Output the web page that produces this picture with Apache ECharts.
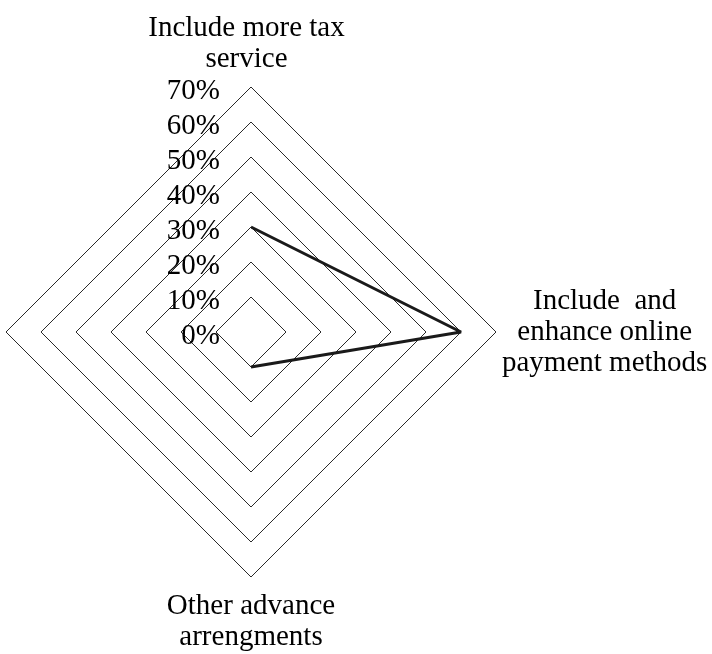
<!DOCTYPE html>
<html>
<head>
<meta charset="utf-8">
<script src="https://cdn.jsdelivr.net/npm/echarts@6/dist/echarts.min.js"></script>
<style>
html,body{margin:0;padding:0;background:#fff;}
#chart{width:712px;height:654px;}
</style>
</head>
<body>
<div id="chart"></div>
<script>
// Categories in clockwise order starting at the top
const categories = [
  'Include more tax\nservice',
  'Include  and\nenhance online\npayment methods',
  'Other advance\narrengments',
  ''
];
// Values in percent (last category has no value)
const values = [30, 60, 10, null];
const axisMin = 0;
const axisMax = 70;
const axisStep = 10;

const FONT = 'Liberation Serif';
const FS = 29;
const LH = 31;
const CENTER = [251, 332];
const RADIUS = 245;

// radar lays indicators counter-clockwise: reorder to top, left, bottom, right
const radarOrder = [0, 3, 2, 1];
const indicator = radarOrder.map(i => ({ name: categories[i], min: axisMin, max: axisMax }));

const baseText = { align: 'center', color: '#000', fontFamily: FONT, fontSize: FS, lineHeight: LH };
const SP = '\u00a0';

const chart = echarts.init(document.getElementById('chart'), null, { renderer: 'canvas' });
chart.setOption({
  animation: false,
  backgroundColor: '#fff',
  radar: {
    center: CENTER,
    radius: RADIUS,
    startAngle: 90,
    shape: 'polygon',
    splitNumber: (axisMax - axisMin) / axisStep,
    indicator: indicator,
    nameGap: 6,
    axisName: {
      color: '#000',
      fontFamily: FONT,
      fontSize: FS,
      lineHeight: LH,
      formatter: function (name) {
        if (!name) return '';
        const lines = name.split('\n');
        const idx = categories.indexOf(name);
        const key = idx === 0 ? 't' : 'c';
        let out = lines.map(l => '{' + key + '|' + l + '}');
        if (idx === 0) out.push('{g6|' + SP + '}');
        if (idx === 2) out.unshift('{g8|' + SP + '}');
        return out.join('\n');
      },
      rich: {
        c: Object.assign({}, baseText),
        t: Object.assign({}, baseText, { padding: [0, 9, 0, 0] }),
        g6: { fontSize: 1, lineHeight: 6 },
        g8: { fontSize: 1, lineHeight: 8 }
      }
    },
    axisLine: { show: false },
    axisTick: { show: false },
    axisLabel: { show: false },
    splitArea: { show: false },
    splitLine: { lineStyle: { color: '#2a2a2a', width: 1 } }
  },
  polar: {
    center: CENTER,
    radius: RADIUS
  },
  angleAxis: {
    type: 'category',
    data: categories,
    boundaryGap: false,
    startAngle: 90,
    clockwise: true,
    show: false
  },
  radiusAxis: {
    type: 'value',
    min: axisMin,
    max: axisMax,
    interval: axisStep,
    axisLine: { show: false },
    axisTick: { show: false },
    splitLine: { show: false },
    axisLabel: {
      margin: 31,
      color: '#000',
      fontFamily: FONT,
      fontSize: FS,
      formatter: function (v) { return '{g|' + SP + '}\n{v|' + v + '%}'; },
      rich: {
        g: { fontSize: 1, lineHeight: 8 },
        v: { color: '#000', fontFamily: FONT, fontSize: FS, lineHeight: LH, align: 'right' }
      }
    }
  },
  series: [{
    type: 'line',
    coordinateSystem: 'polar',
    data: values.map(v => (v === null ? '-' : v)),
    symbol: 'none',
    connectNulls: false,
    lineStyle: { color: '#1a1a1a', width: 3 }
  }]
});
</script>
</body>
</html>
